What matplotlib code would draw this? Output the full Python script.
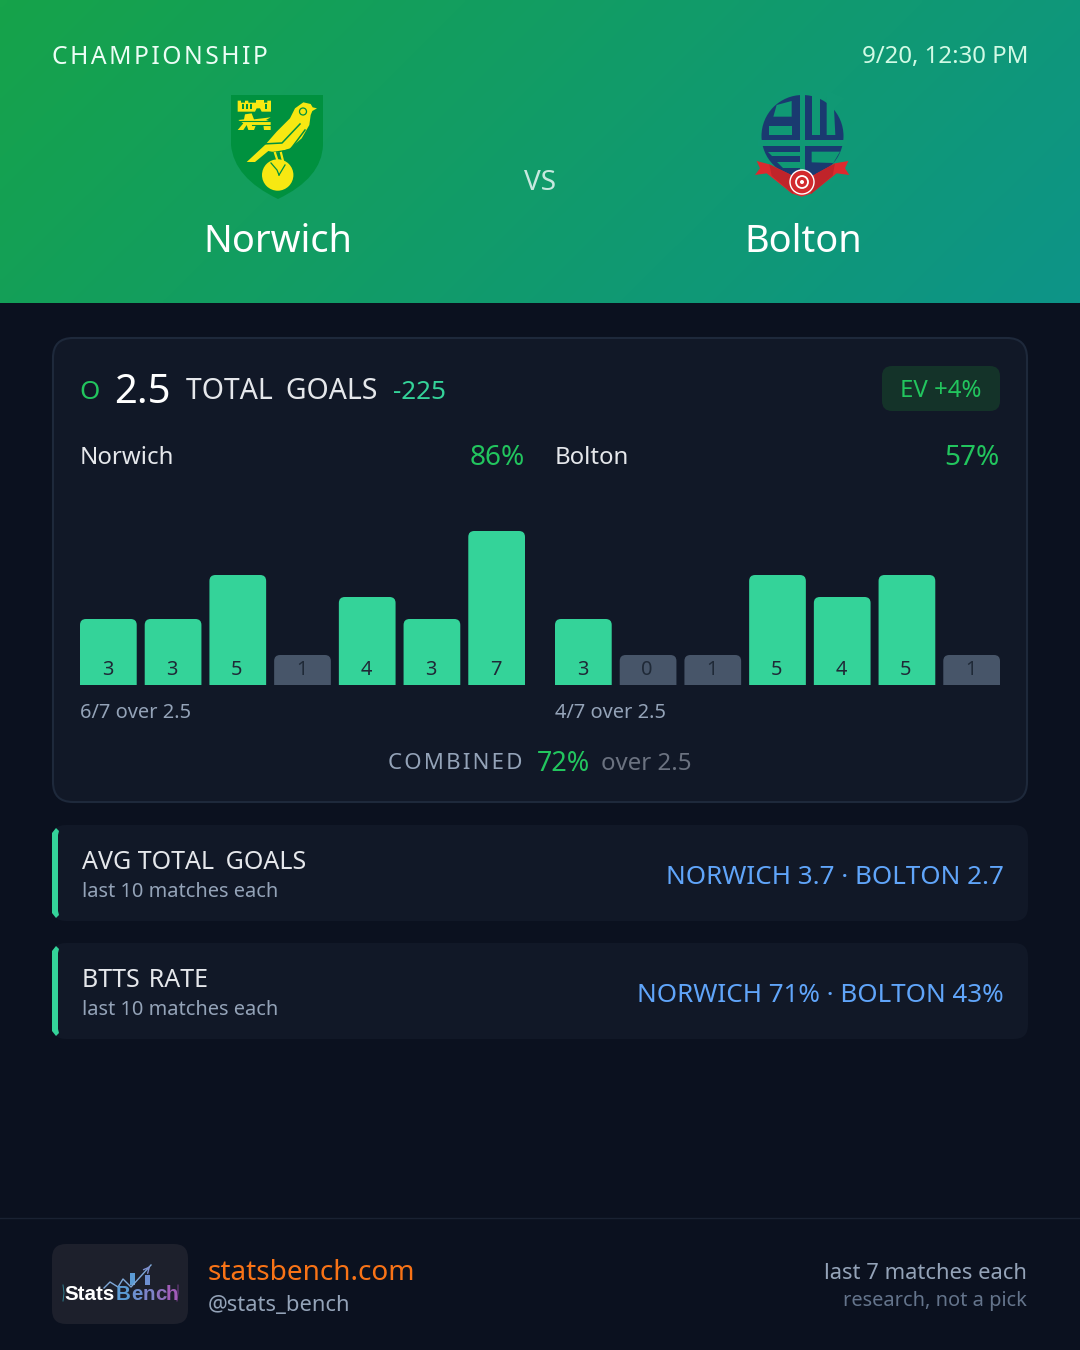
import numpy as np
import matplotlib
matplotlib.use('Agg')
import matplotlib.pyplot as plt
from matplotlib.patches import FancyBboxPatch, Polygon, Circle, Rectangle, PathPatch
from matplotlib.path import Path
from matplotlib.colors import LinearSegmentedColormap

plt.rcParams['font.family'] = ['Noto Sans', 'DejaVu Sans']

home_team = 'Norwich'
away_team = 'Bolton'
home_goals = [3, 3, 5, 1, 4, 3, 7]
away_goals = [3, 0, 1, 5, 4, 5, 1]
line = 2.5

W, H = 1080, 1350
BG = '#0b111f'
CARD = '#111827'
GREEN = '#22c55e'
BAR = '#34d399'
BAR_LOW = '#475569'
BLUE = '#60a5fa'
NAVY = '#1a3a70'
BADGE_BG = '#109974'
HAIR = '\u200a'
PT = 72 / 100


def px(size):
    return size * PT


def round_box(ax, x, y, w, h, r, **kw):
    p = FancyBboxPatch((x + r, y + r), w - 2 * r, h - 2 * r,
                       boxstyle='round,pad=%s,rounding_size=%s' % (r, r), **kw)
    ax.add_patch(p)
    return p


def text(ax, x, y, s, size, color, ha='left', **kw):
    # noto sits a little high with va=center, push it back down
    return ax.text(x, y + size * 0.09, s, fontsize=px(size), color=color, ha=ha, va='center', **kw)


def draw_bars(ax, left, right, values, base=685, unit=22, min_h=30):
    n = len(values)
    gap = 8.0
    bw = (right - left - gap * (n - 1)) / n
    for i, v in enumerate(values):
        x = left + i * (bw + gap)
        h = max(v * unit, min_h)
        col = BAR if v > line else BAR_LOW
        top_path = Path([(x, base), (x, base - h + 6), (x, base - h), (x + 6, base - h),
                         (x + bw - 6, base - h), (x + bw, base - h), (x + bw, base - h + 6), (x + bw, base), (x, base)],
                        [Path.MOVETO, Path.LINETO, Path.CURVE3, Path.CURVE3, Path.LINETO,
                         Path.CURVE3, Path.CURVE3, Path.LINETO, Path.CLOSEPOLY])
        ax.add_patch(PathPatch(top_path, fc=col, ec='none'))
        text(ax, x + bw / 2 - 1, base - 17, str(v), 20, '#1f2937', ha='center')


def crop_poly(ax, pts, ox, oy, **kw):
    xy = [(ox + a / 3, oy + b / 3) for a, b in pts]
    p = Polygon(xy, closed=True, ec='none', **kw)
    ax.add_patch(p)
    return p


def norwich_badge(ax):
    yel = '#f7e812'
    dark = '#00913f'
    ox, oy = 180, 80
    shield = Path([(231, 95), (323, 95), (323, 145), (322, 178), (278, 199), (234, 178), (231, 145), (231, 95)],
                  [Path.MOVETO, Path.LINETO, Path.LINETO, Path.CURVE3, Path.CURVE3, Path.CURVE3, Path.CURVE3, Path.CLOSEPOLY])
    ax.add_patch(PathPatch(shield, fc=dark, ec='none'))
    # castle
    crop_poly(ax, [(173, 62), (183, 62), (183, 68), (195, 68), (195, 62), (205, 62), (205, 68), (228, 68), (228, 60),
                   (252, 60), (252, 68), (262, 68), (262, 62), (273, 62), (273, 95), (245, 95), (240, 85), (230, 85), (225, 95), (173, 95)],
              ox, oy, fc=yel)
    for cx in (186, 198, 210, 256):
        crop_poly(ax, [(cx, 72), (cx + 5, 72), (cx + 5, 88), (cx, 88)], ox, oy, fc=dark)
    # lion
    crop_poly(ax, [(175, 120), (192, 118), (195, 103), (215, 100), (222, 118), (272, 112), (258, 120), (272, 125), (272, 150),
                   (252, 150), (250, 135), (228, 135), (222, 150), (205, 150), (200, 135), (190, 150), (173, 150), (190, 130)],
              ox, oy, fc=yel)
    ax.plot([240, 270], [120.5, 120.5], color=dark, lw=0.8)
    ax.plot([252, 270], [124.5, 124.5], color=dark, lw=0.8)
    # bird
    crop_poly(ax, [(200, 246), (255, 195), (290, 155), (330, 115), (345, 85), (370, 67), (392, 72), (398, 82), (411, 85),
                   (397, 93), (392, 105), (388, 135), (365, 175), (330, 205), (290, 218), (265, 213), (225, 246)],
              ox, oy, fc=yel)
    ax.add_patch(Circle((303, 111.5), 3.5, fc=yel, ec=dark, lw=0.9))
    ax.plot([262.5, 282, 300], [144, 143, 124], color=dark, lw=1.1)
    ax.plot([270, 290, 305], [153, 150, 130], color=dark, lw=1.1)
    ax.plot([275, 279], [153, 165], color=yel, lw=1.6)
    ax.plot([281, 284], [153, 165], color=yel, lw=1.6)
    ax.add_patch(Circle((277.7, 175), 15.7, fc=yel, ec='none'))
    ax.plot([271, 277, 279], [163, 170, 175], color=dark, lw=0.9)
    ax.plot([285, 279], [165, 175], color=dark, lw=0.9)


def bolton_badge(ax):
    ox, oy = 730, 85
    disc = Circle((802.5, 136), 41, fc=NAVY, ec='none')
    ax.add_patch(disc)
    # cut the BW / EC letters out of the disc
    windows = [
        # gaps between the letters
        [(210, 20), (225, 20), (225, 165), (210, 165)],
        [(85, 165), (350, 165), (350, 182), (85, 182)],
        [(210, 182), (226, 182), (226, 280), (210, 280)],
        # B counters
        [(140, 60), (185, 48), (185, 95), (130, 95)],
        [(118, 122), (185, 122), (185, 150), (118, 150)],
        # W counters are open at the top
        [(245, 15), (270, 15), (270, 150), (245, 150)],
        [(290, 15), (345, 40), (312, 72), (316, 150), (290, 150)],
        # E counters
        [(115, 200), (210, 200), (210, 214), (125, 214)],
        [(140, 232), (210, 232), (210, 250), (160, 250)],
        # C counter
        [(245, 200), (330, 200), (310, 234), (245, 232)],
    ]
    for w in windows:
        crop_poly(ax, w, ox, oy, fc=BADGE_BG)
    red = '#dc2a2e'
    crop_poly(ax, [(80, 228), (118, 238), (180, 268), (215, 285), (255, 268), (315, 235), (355, 228), (345, 250), (358, 270),
                   (320, 265), (245, 325), (215, 335), (185, 325), (110, 265), (75, 270), (90, 250)],
              ox, oy, fc=red)
    crop_poly(ax, [(118, 238), (125, 272), (190, 328), (180, 268)], ox, oy, fc='#c0242a')
    crop_poly(ax, [(315, 235), (308, 272), (242, 328), (255, 268)], ox, oy, fc='#c0242a')
    rose = Circle((802, 182), 12, fc='#d22a2e', ec='white', lw=1)
    ax.add_patch(rose)
    ax.add_patch(Circle((802, 182), 6, fc='none', ec='white', lw=1.3))
    ax.add_patch(Circle((802, 182), 2, fc='white', ec='none'))


def stats_logo(ax):
    cols = ['#5b9bd5', '#6d8fd0', '#7d83c8', '#8e72c0', '#a05cb8']
    text(ax, 64, 1293, 'Stats', 20.5, 'white', family='Liberation Sans', fontweight='bold')
    xs = [116, 131, 143, 155, 166]
    for ch, c, xc in zip('Bench', cols, xs):
        text(ax, xc, 1293, ch, 20.5, c, family='Liberation Sans', fontweight='bold')
    ax.add_patch(Rectangle((130, 1273), 5, 12, fc='#5b9bd5', ec='none'))
    ax.add_patch(Rectangle((145, 1275), 5, 10, fc='#6d8fd0', ec='none'))
    ax.plot([104, 110, 118, 123, 131, 151], [1288, 1282, 1287, 1279, 1287, 1265], color='#7fa8d8', lw=1)
    ax.annotate('', xy=(152, 1264), xytext=(146, 1271), arrowprops=dict(arrowstyle='->', color='#7f8fd0', lw=1))
    ax.plot([63, 64, 63], [1285, 1293, 1301], color='#2f7f8f', lw=0.7)
    ax.plot([178, 178, 177], [1285, 1293, 1301], color='#7a3f8f', lw=0.7)


fig = plt.figure(figsize=(W / 100, H / 100), dpi=100, facecolor=BG)
ax = fig.add_axes([0, 0, 1, 1])
ax.set_xlim(0, W)
ax.set_ylim(H, 0)
ax.axis('off')

# header gradient
xx, yy = np.meshgrid(np.linspace(0, 1, 270), np.linspace(0, 1, 76))
grad = (xx * W + yy * 303) / (W + 303)
cmap = LinearSegmentedColormap.from_list('head', ['#16a34a', '#0d9488'])
ax.imshow(grad, cmap=cmap, extent=(0, W, 303, 0), aspect='auto', zorder=0, interpolation='bilinear')
ax.set_xlim(0, W)
ax.set_ylim(H, 0)

text(ax, 52, 55, HAIR.join('CHAMPIONSHIP'), 24.7, '#ecfdf5')
text(ax, 1028, 55, '9/20, 12:30 PM', 24, '#d1fae5', ha='right')
text(ax, 540, 180, 'VS', 28, '#c7e9df', ha='center')
norwich_badge(ax)
bolton_badge(ax)
text(ax, 278, 239, home_team, 38, 'white', ha='center')
text(ax, 803, 239, away_team, 38, 'white', ha='center')

# main card
round_box(ax, 53, 338, 974, 464, 20, fc=CARD, ec='#1e293b', lw=1.5)
text(ax, 79, 390, 'O', 26, GREEN)
text(ax, 114, 389, '2.5', 40, 'white')
text(ax, 186, 389, 'TOTAL' + HAIR + ' ' + HAIR + 'GOALS', 28.4, '#e5e7eb')
text(ax, 393, 390, '-225', 26, BAR)
round_box(ax, 882, 366, 118, 45, 10, fc='#143329', ec='none')
text(ax, 941, 389, 'EV +4%', 24, GREEN, ha='center')

text(ax, 80, 456, home_team, 24, '#e5e7eb')
text(ax, 525, 455, '86%', 28, GREEN, ha='right')
text(ax, 555, 456, away_team, 24, '#e5e7eb')
text(ax, 1000, 455, '57%', 28, GREEN, ha='right')

draw_bars(ax, 80, 525, home_goals)
draw_bars(ax, 555, 1000, away_goals)

text(ax, 80, 711, '6/7 over 2.5', 20, '#94a3b8')
text(ax, 555, 711, '4/7 over 2.5', 20, '#94a3b8')

text(ax, 388, 762, HAIR.join('COMBINED'), 22.2, '#94a3b8')
text(ax, 537, 762, '72%', 27, GREEN)
text(ax, 601, 762, 'over 2.5', 24, '#6b7280')

# stat rows
for top, title, value in [(825, 'AVG TOTAL' + HAIR + ' ' + HAIR + 'GOALS', 'NORWICH 3.7 · BOLTON 2.7'),
                          (943, 'BTTS' + HAIR + ' RATE', 'NORWICH 71% · BOLTON 43%')]:
    round_box(ax, 52, top, 976, 96, 14, fc=CARD, ec='none')
    ax.add_patch(Polygon([(52, top + 8), (56, top + 3), (59, top + 6), (58, top + 10), (58, top + 86), (59, top + 90),
                          (56, top + 93), (52, top + 88)], closed=True, fc=BAR, ec='none'))
    text(ax, 82, top + 35, title, 25, '#e5e7eb')
    text(ax, 82, top + 65, 'last 10 matches each', 20, '#94a3b8')
    text(ax, 1004, top + 50, value, 26, BLUE, ha='right')

# footer
ax.plot([0, W], [1217.5, 1217.5], color='#1a2232', lw=1)
round_box(ax, 52, 1244, 136, 80, 14, fc='#1d202c', ec='none')
stats_logo(ax)
text(ax, 208, 1270, 'statsbench.com', 28, '#f97316')
text(ax, 208, 1304, '@stats_bench', 22, '#94a3b8')
text(ax, 1027, 1272, 'last 7 matches each', 22, '#94a3b8', ha='right')
text(ax, 1027, 1299, 'research, not a pick', 20, '#64748b', ha='right')

fig.savefig('out.png', dpi=100, facecolor=BG)
